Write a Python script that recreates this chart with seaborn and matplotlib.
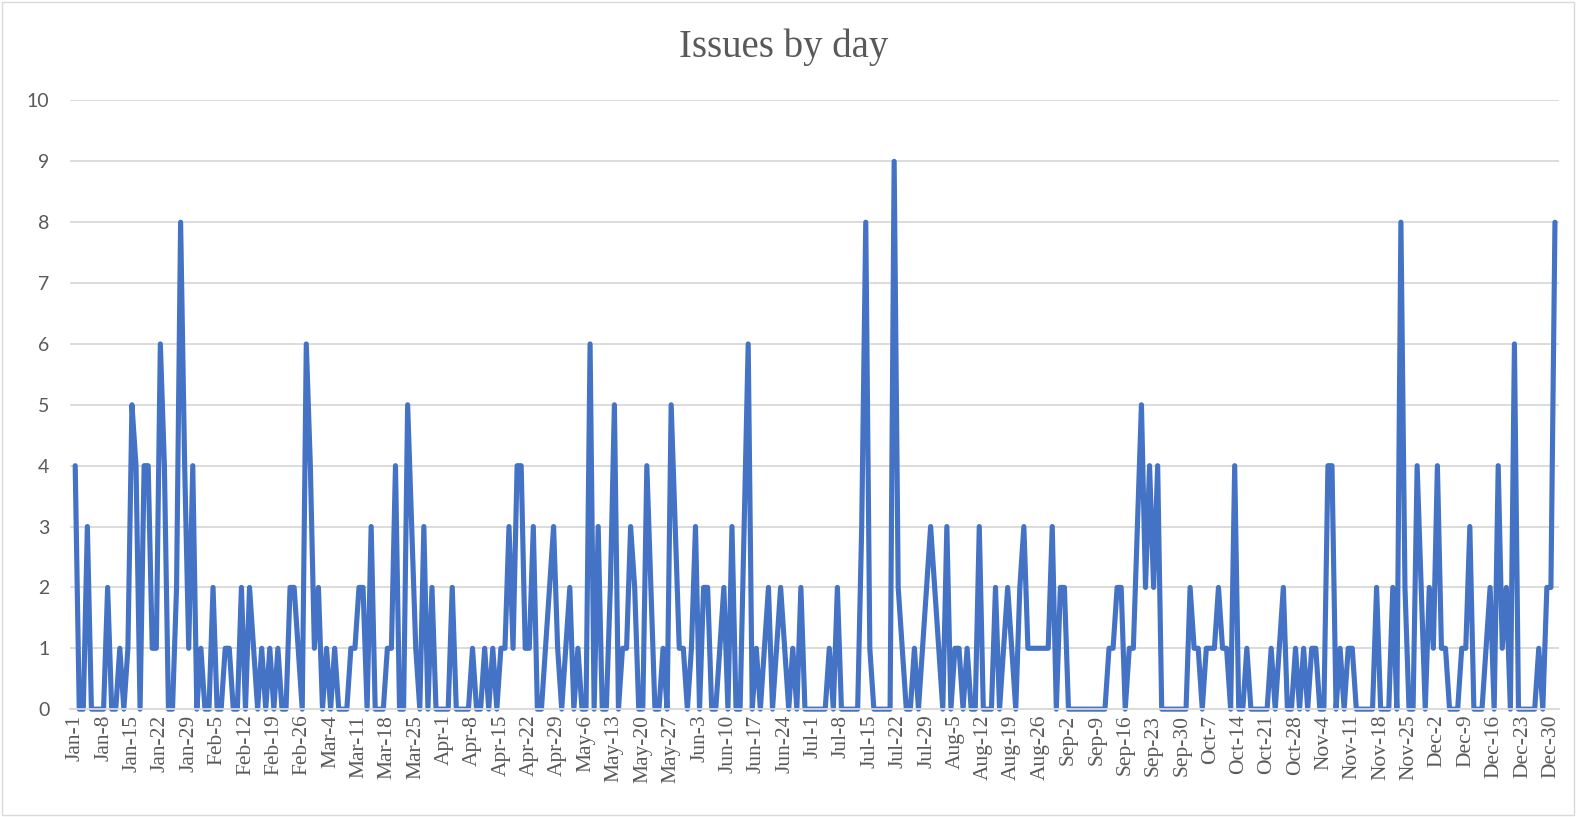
import numpy as np
import pandas as pd
import matplotlib
matplotlib.use("Agg")
import matplotlib.pyplot as plt
from matplotlib.patches import Rectangle
import seaborn as sns

# daily issue counts, 2024 (leap year), one list per month
jan = [4,0,0,3,0,0,0,0,2,0,0,1,0,1,5,4,0,4,4,1,1,6,4,0,0,2,8,4,1,4,0]
feb = [1,0,0,2,0,0,1,1,0,0,2,0,2,1,0,1,0,1,0,1,0,0,2,2,1,0,6,4,1]
mar = [2,0,1,0,1,0,0,0,1,1,2,2,0,3,0,0,0,1,1,4,0,0,5,3,1,0,3,0,2,0,0]
apr = [0,0,2,0,0,0,0,1,0,0,1,0,1,0,1,1,3,1,4,4,1,1,3,0,0,1,2,3,1,0]
may = [1,2,0,1,0,0,6,0,3,0,0,2,5,0,1,1,3,2,0,0,4,2,0,0,1,0,5,3,1,1,0]
jun = [1,3,0,2,2,0,0,1,2,0,3,0,0,3,6,0,1,0,1,2,0,1,2,1,0,1,0,2,0,0]
jul = [0,0,0,0,1,0,2,0,0,0,0,0,3,8,1,0,0,0,0,0,9,2,1,0,0,1,0,1,2,3,2]
aug = [1,0,3,0,1,1,0,1,0,0,3,0,0,0,2,0,1,2,1,0,2,3,1,1,1,1,1,1,3,0,2]
sep = [2,0,0,0,0,0,0,0,0,0,0,1,1,2,2,0,1,1,3,5,2,4,2,4,0,0,0,0,0,0]
oct = [0,2,1,1,0,1,1,1,2,1,1,0,4,0,0,1,0,0,0,0,0,1,0,1,2,0,0,1,0,1,0]
nov = [1,1,0,0,4,4,0,1,0,1,1,0,0,0,0,0,2,0,0,0,2,0,8,2,0,0,4,2,0,2]
dec = [1,4,1,1,0,0,0,1,1,3,0,0,0,1,2,0,4,1,2,0,6,0,0,0,0,0,1,0,2,2,8]

issues = jan + feb + mar + apr + may + jun + jul + aug + sep + oct + nov + dec
dates = pd.date_range("2024-01-01", periods=len(issues), freq="D")
df = pd.DataFrame({"day": np.arange(len(issues)), "issues": issues})

tick_pos = list(range(0, len(issues), 7))
tick_labels = [f"{dates[i]:%b}-{dates[i].day}" for i in tick_pos]

sns.set_style("white")
plt.rcParams["font.family"] = ["Liberation Serif", "DejaVu Serif"]

fig = plt.figure(figsize=(15.77, 8.17), dpi=100)
ax = fig.add_axes([0.0446, 0.132, 0.944, 0.745])

sns.lineplot(data=df, x="day", y="issues", ax=ax, color="#4472C4", linewidth=3.7)
for ln in ax.lines:
    ln.set_clip_on(False)
    ln.set_solid_joinstyle("round")
    ln.set_solid_capstyle("round")

ax.set_xlim(-1.2, 366)
ax.set_ylim(0, 10)
ax.set_yticks(range(0, 11))
ax.set_yticklabels([str(v) for v in range(0, 11)], family=["Lato", "DejaVu Sans"],
                   fontsize=14, color="#595959")
ax.set_xticks(tick_pos)
ax.set_xticklabels(tick_labels, rotation=90, fontsize=15.5, color="#595959")
ax.tick_params(axis="both", length=0)
ax.tick_params(axis="y", pad=15)
ax.tick_params(axis="x", pad=4)
ax.grid(axis="y", color="#d9d9d9", linewidth=1.3)
ax.grid(axis="x", visible=False)
ax.set_axisbelow(True)
for s in ["top", "right", "left"]:
    ax.spines[s].set_visible(False)
ax.spines["bottom"].set_color("#d9d9d9")
ax.spines["bottom"].set_linewidth(1.3)
ax.set_xlabel("")
ax.set_ylabel("")

fig.text(0.497, 0.942, "Issues by day", ha="center", va="center",
         fontsize=28, color="#595959")
fig.patches.append(Rectangle((0.001, 0.002), 0.997, 0.996, transform=fig.transFigure,
                             fill=False, edgecolor="#d9d9d9", linewidth=1))

fig.savefig("out.png", dpi=100)
